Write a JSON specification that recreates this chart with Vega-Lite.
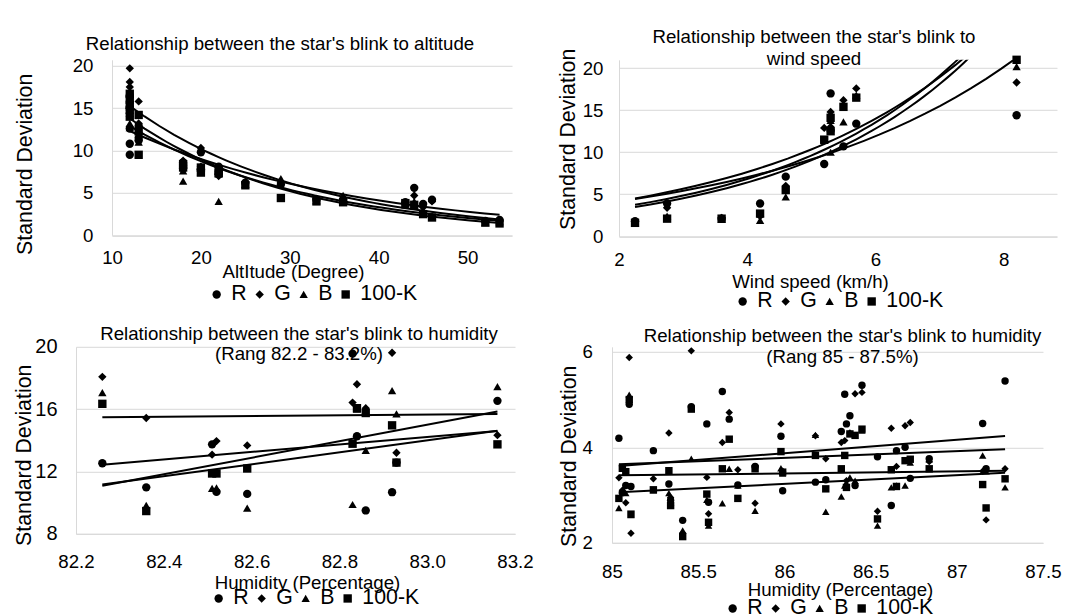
{
"$schema": "https://vega.github.io/schema/vega-lite/v6.json",
"padding": {"left": 13, "top": 27.8, "right": 0, "bottom": 0},
"background": "white",
"config": {
  "font": "Liberation Sans",
  "view": {"stroke": null},
  "axis": {"labelColor": "#000", "titleColor": "#000", "titleFontWeight": "normal", "gridColor": "#d9d9d9", "domainColor": "#d9d9d9", "ticks": false, "tickSize": 0, "labelFlush": false, "labelFontSize": 18.67, "titleFontSize": 18.67, "labelOverlap": false},
  "axisX": {"grid": false},
  "axisY": {"grid": true, "titleFontSize": 21.33},
  "legend": {"orient": "bottom", "direction": "horizontal", "labelFontSize": 21.33, "labelColor": "#000", "symbolSize": 70, "symbolFillColor": "black", "symbolStrokeColor": "black", "symbolStrokeWidth": 0, "columnPadding": 2, "labelOffset": 4, "layout": {"bottom": {"anchor": "middle"}}},
  "title": {"fontWeight": "normal", "fontSize": 18.67, "color": "#000", "anchor": "middle"}
},
"datasets": {
"alt": [
{"x":12,"s":"R","y":16.5},{"x":12,"s":"R","y":15.0},{"x":12,"s":"R","y":12.6},{"x":12,"s":"R","y":10.8},{"x":12,"s":"R","y":9.5},
{"x":12,"s":"G","y":19.7},{"x":12,"s":"G","y":18.1},{"x":12,"s":"G","y":17.5},{"x":12,"s":"G","y":16.2},{"x":12,"s":"G","y":14.7},
{"x":12,"s":"B","y":16.8},{"x":12,"s":"B","y":15.3},{"x":12,"s":"B","y":13.2},{"x":12,"s":"B","y":12.7},{"x":12,"s":"B","y":14.4},
{"x":12,"s":"100-K","y":16.7},{"x":12,"s":"100-K","y":16.0},{"x":12,"s":"100-K","y":15.4},{"x":12,"s":"100-K","y":14.8},{"x":12,"s":"100-K","y":14.0},
{"x":13,"s":"R","y":12.9},{"x":13,"s":"R","y":11.5},{"x":13,"s":"R","y":11.2},
{"x":13,"s":"G","y":15.8},{"x":13,"s":"G","y":13.2},{"x":13,"s":"G","y":12.0},
{"x":13,"s":"B","y":12.2},{"x":13,"s":"B","y":11.0},{"x":13,"s":"B","y":11.6},
{"x":13,"s":"100-K","y":14.2},{"x":13,"s":"100-K","y":12.3},{"x":13,"s":"100-K","y":9.5},
{"x":18,"s":"R","y":8.6},{"x":18,"s":"R","y":7.9},{"x":18,"s":"G","y":8.2},{"x":18,"s":"G","y":8.8},{"x":18,"s":"B","y":6.4},{"x":18,"s":"B","y":7.6},{"x":18,"s":"100-K","y":8.0},{"x":18,"s":"100-K","y":8.4},
{"x":20,"s":"R","y":9.8},{"x":20,"s":"R","y":7.8},{"x":20,"s":"G","y":10.3},{"x":20,"s":"G","y":8.1},{"x":20,"s":"B","y":7.5},{"x":20,"s":"B","y":8.0},{"x":20,"s":"100-K","y":8.0},{"x":20,"s":"100-K","y":7.4},
{"x":22,"s":"R","y":8.1},{"x":22,"s":"R","y":7.2},{"x":22,"s":"G","y":7.5},{"x":22,"s":"G","y":7.0},{"x":22,"s":"B","y":4.0},{"x":22,"s":"B","y":7.3},{"x":22,"s":"100-K","y":7.3},{"x":22,"s":"100-K","y":7.6},
{"x":25,"s":"R","y":6.2},{"x":25,"s":"G","y":6.3},{"x":25,"s":"B","y":6.0},{"x":25,"s":"100-K","y":5.9},
{"x":29,"s":"R","y":6.0},{"x":29,"s":"G","y":6.2},{"x":29,"s":"B","y":6.7},{"x":29,"s":"100-K","y":4.4},
{"x":33,"s":"R","y":4.2},{"x":33,"s":"G","y":4.3},{"x":33,"s":"B","y":4.1},{"x":33,"s":"100-K","y":4.0},
{"x":36,"s":"R","y":4.2},{"x":36,"s":"G","y":4.3},{"x":36,"s":"B","y":4.7},{"x":36,"s":"100-K","y":3.9},
{"x":43,"s":"R","y":3.9},{"x":43,"s":"G","y":3.8},{"x":43,"s":"B","y":3.6},{"x":43,"s":"100-K","y":3.8},
{"x":44,"s":"R","y":5.6},{"x":44,"s":"G","y":4.7},{"x":44,"s":"B","y":4.0},{"x":44,"s":"100-K","y":3.6},
{"x":45,"s":"R","y":3.7},{"x":45,"s":"G","y":3.3},{"x":45,"s":"B","y":2.9},{"x":45,"s":"100-K","y":2.5},
{"x":46,"s":"R","y":4.2},{"x":46,"s":"G","y":4.0},{"x":46,"s":"B","y":2.3},{"x":46,"s":"100-K","y":2.1},
{"x":52,"s":"R","y":1.7},{"x":52,"s":"G","y":1.6},{"x":52,"s":"B","y":1.5},{"x":52,"s":"100-K","y":1.5},
{"x":53.6,"s":"R","y":1.8},{"x":53.6,"s":"G","y":1.7},{"x":53.6,"s":"B","y":1.6},{"x":53.6,"s":"100-K","y":1.4}
],
"wind": [
{"x":2.25,"s":"R","y":1.8},{"x":2.25,"s":"G","y":1.7},{"x":2.25,"s":"B","y":1.6},{"x":2.25,"s":"100-K","y":1.6},
{"x":2.75,"s":"R","y":3.9},{"x":2.75,"s":"G","y":3.4},{"x":2.75,"s":"B","y":2.4},{"x":2.75,"s":"100-K","y":2.1},
{"x":3.6,"s":"R","y":2.1},{"x":3.6,"s":"G","y":2.2},{"x":3.6,"s":"B","y":2.0},{"x":3.6,"s":"100-K","y":2.1},
{"x":4.2,"s":"R","y":3.9},{"x":4.2,"s":"G","y":2.4},{"x":4.2,"s":"B","y":1.9},{"x":4.2,"s":"100-K","y":2.7},
{"x":4.6,"s":"R","y":7.1},{"x":4.6,"s":"G","y":6.0},{"x":4.6,"s":"B","y":4.7},{"x":4.6,"s":"100-K","y":5.5},
{"x":5.2,"s":"R","y":8.6},{"x":5.2,"s":"G","y":12.9},{"x":5.2,"s":"B","y":11.4},{"x":5.2,"s":"100-K","y":11.5},
{"x":5.3,"s":"R","y":17.0},{"x":5.3,"s":"G","y":14.8},{"x":5.3,"s":"B","y":13.8},{"x":5.3,"s":"100-K","y":14.1},
{"x":5.3,"s":"R","y":12.6},{"x":5.3,"s":"G","y":13.0},{"x":5.3,"s":"B","y":10.0},{"x":5.3,"s":"100-K","y":12.5},
{"x":5.5,"s":"R","y":10.7},{"x":5.5,"s":"G","y":16.2},{"x":5.5,"s":"B","y":13.6},{"x":5.5,"s":"100-K","y":15.4},
{"x":5.7,"s":"R","y":13.4},{"x":5.7,"s":"G","y":17.6},{"x":5.7,"s":"B","y":16.8},{"x":5.7,"s":"100-K","y":16.5},
{"x":8.2,"s":"R","y":14.4},{"x":8.2,"s":"G","y":18.3},{"x":8.2,"s":"B","y":20.2},{"x":8.2,"s":"100-K","y":21.0}
],
"hum1": [
{"x":82.26,"s":"R","y":12.53},{"x":82.26,"s":"G","y":18.07},{"x":82.26,"s":"B","y":17.06},{"x":82.26,"s":"100-K","y":16.34},
{"x":82.36,"s":"R","y":10.98},{"x":82.36,"s":"G","y":15.43},{"x":82.36,"s":"B","y":9.82},{"x":82.36,"s":"100-K","y":9.46},
{"x":82.51,"s":"R","y":13.74},{"x":82.51,"s":"G","y":13.08},{"x":82.51,"s":"B","y":10.92},{"x":82.51,"s":"100-K","y":11.87},
{"x":82.52,"s":"R","y":10.69},{"x":82.52,"s":"G","y":13.95},{"x":82.52,"s":"B","y":10.94},{"x":82.52,"s":"100-K","y":11.87},
{"x":82.59,"s":"R","y":10.56},{"x":82.59,"s":"G","y":13.67},{"x":82.59,"s":"B","y":9.65},{"x":82.59,"s":"100-K","y":12.19},
{"x":82.83,"s":"R","y":19.56},{"x":82.83,"s":"G","y":16.42},{"x":82.83,"s":"B","y":9.88},{"x":82.83,"s":"100-K","y":13.78},
{"x":82.84,"s":"R","y":14.26},{"x":82.84,"s":"G","y":17.6},{"x":82.84,"s":"B","y":16.0},{"x":82.84,"s":"100-K","y":16.06},
{"x":82.86,"s":"R","y":9.5},{"x":82.86,"s":"G","y":16.06},{"x":82.86,"s":"B","y":13.35},{"x":82.86,"s":"100-K","y":15.75},
{"x":82.92,"s":"R","y":10.67},{"x":82.92,"s":"G","y":19.62},{"x":82.92,"s":"B","y":17.19},{"x":82.92,"s":"100-K","y":14.96},
{"x":82.93,"s":"R","y":12.57},{"x":82.93,"s":"G","y":13.2},{"x":82.93,"s":"B","y":15.7},{"x":82.93,"s":"100-K","y":12.57},
{"x":83.16,"s":"R","y":16.53},{"x":83.16,"s":"G","y":14.33},{"x":83.16,"s":"B","y":17.44},{"x":83.16,"s":"100-K","y":13.74}
],
"hum2": [
{"x":85.04,"s":"R","y":4.19},{"x":85.04,"s":"G","y":3.36},{"x":85.04,"s":"B","y":2.73},{"x":85.04,"s":"100-K","y":2.93},
{"x":85.06,"s":"R","y":3.05},{"x":85.06,"s":"G","y":3.1},{"x":85.06,"s":"B","y":3.1},{"x":85.06,"s":"100-K","y":3.56},
{"x":85.08,"s":"R","y":3.2},{"x":85.08,"s":"G","y":2.84},{"x":85.08,"s":"B","y":3.04},{"x":85.08,"s":"100-K","y":3.49},
{"x":85.1,"s":"R","y":4.9},{"x":85.1,"s":"G","y":5.88},{"x":85.1,"s":"B","y":5.1},{"x":85.1,"s":"100-K","y":5.0},
{"x":85.11,"s":"R","y":3.18},{"x":85.11,"s":"G","y":2.2},{"x":85.11,"s":"B","y":2.58},{"x":85.11,"s":"100-K","y":2.6},
{"x":85.24,"s":"R","y":3.93},{"x":85.24,"s":"G","y":3.34},{"x":85.24,"s":"B","y":3.1},{"x":85.24,"s":"100-K","y":3.11},
{"x":85.33,"s":"R","y":3.23},{"x":85.33,"s":"G","y":4.3},{"x":85.33,"s":"B","y":3.04},{"x":85.33,"s":"100-K","y":3.51},
{"x":85.34,"s":"R","y":2.89},{"x":85.34,"s":"G","y":2.95},{"x":85.34,"s":"B","y":2.85},{"x":85.34,"s":"100-K","y":2.78},
{"x":85.41,"s":"R","y":2.47},{"x":85.41,"s":"G","y":2.2},{"x":85.41,"s":"B","y":2.26},{"x":85.41,"s":"100-K","y":2.13},
{"x":85.46,"s":"R","y":4.85},{"x":85.46,"s":"G","y":6.02},{"x":85.46,"s":"B","y":3.76},{"x":85.46,"s":"100-K","y":4.8},
{"x":85.55,"s":"R","y":4.49},{"x":85.55,"s":"G","y":3.37},{"x":85.55,"s":"B","y":2.9},{"x":85.55,"s":"100-K","y":3.02},
{"x":85.56,"s":"R","y":2.85},{"x":85.56,"s":"G","y":2.61},{"x":85.56,"s":"B","y":2.36},{"x":85.56,"s":"100-K","y":2.43},
{"x":85.64,"s":"R","y":5.17},{"x":85.64,"s":"G","y":4.1},{"x":85.64,"s":"B","y":2.83},{"x":85.64,"s":"100-K","y":3.55},
{"x":85.68,"s":"R","y":4.59},{"x":85.68,"s":"G","y":4.73},{"x":85.68,"s":"B","y":3.55},{"x":85.68,"s":"100-K","y":4.17},
{"x":85.73,"s":"R","y":3.21},{"x":85.73,"s":"G","y":3.53},{"x":85.73,"s":"B","y":3.2},{"x":85.73,"s":"100-K","y":2.93},
{"x":85.83,"s":"R","y":3.6},{"x":85.83,"s":"G","y":2.83},{"x":85.83,"s":"B","y":2.67},{"x":85.83,"s":"100-K","y":3.55},
{"x":85.98,"s":"R","y":4.23},{"x":85.98,"s":"G","y":4.49},{"x":85.98,"s":"B","y":3.56},{"x":85.98,"s":"100-K","y":3.91},
{"x":85.99,"s":"R","y":3.09},{"x":85.99,"s":"G","y":3.5},{"x":85.99,"s":"B","y":3.45},{"x":85.99,"s":"100-K","y":3.48},
{"x":86.18,"s":"R","y":3.27},{"x":86.18,"s":"G","y":4.24},{"x":86.18,"s":"B","y":4.26},{"x":86.18,"s":"100-K","y":3.83},
{"x":86.24,"s":"R","y":3.32},{"x":86.24,"s":"G","y":3.76},{"x":86.24,"s":"B","y":2.65},{"x":86.24,"s":"100-K","y":3.13},
{"x":86.33,"s":"R","y":4.33},{"x":86.33,"s":"G","y":4.1},{"x":86.33,"s":"B","y":2.97},{"x":86.33,"s":"100-K","y":3.55},
{"x":86.35,"s":"R","y":5.11},{"x":86.35,"s":"G","y":4.14},{"x":86.35,"s":"B","y":3.2},{"x":86.35,"s":"100-K","y":3.83},
{"x":86.36,"s":"R","y":4.49},{"x":86.36,"s":"G","y":3.3},{"x":86.36,"s":"B","y":3.25},{"x":86.36,"s":"100-K","y":3.16},
{"x":86.38,"s":"R","y":4.66},{"x":86.38,"s":"G","y":4.3},{"x":86.38,"s":"B","y":3.37},{"x":86.38,"s":"100-K","y":4.28},
{"x":86.41,"s":"R","y":3.2},{"x":86.41,"s":"G","y":5.12},{"x":86.41,"s":"B","y":3.3},{"x":86.41,"s":"100-K","y":4.25},
{"x":86.45,"s":"R","y":5.3},{"x":86.45,"s":"G","y":5.15},{"x":86.45,"s":"B","y":4.35},{"x":86.45,"s":"100-K","y":4.38},
{"x":86.54,"s":"R","y":3.8},{"x":86.54,"s":"G","y":2.66},{"x":86.54,"s":"B","y":2.36},{"x":86.54,"s":"100-K","y":2.5},
{"x":86.62,"s":"R","y":2.78},{"x":86.62,"s":"G","y":4.4},{"x":86.62,"s":"B","y":3.16},{"x":86.62,"s":"100-K","y":3.53},
{"x":86.65,"s":"R","y":3.93},{"x":86.65,"s":"G","y":3.6},{"x":86.65,"s":"B","y":3.2},{"x":86.65,"s":"100-K","y":3.18},
{"x":86.7,"s":"R","y":4.0},{"x":86.7,"s":"G","y":4.45},{"x":86.7,"s":"B","y":3.2},{"x":86.7,"s":"100-K","y":3.72},
{"x":86.73,"s":"R","y":3.35},{"x":86.73,"s":"G","y":4.52},{"x":86.73,"s":"B","y":3.68},{"x":86.73,"s":"100-K","y":3.75},
{"x":86.84,"s":"R","y":3.76},{"x":86.84,"s":"G","y":3.7},{"x":86.84,"s":"B","y":3.75},{"x":86.84,"s":"100-K","y":3.55},
{"x":87.15,"s":"R","y":4.5},{"x":87.15,"s":"G","y":3.5},{"x":87.15,"s":"B","y":3.83},{"x":87.15,"s":"100-K","y":3.22},
{"x":87.17,"s":"R","y":3.55},{"x":87.17,"s":"G","y":2.48},{"x":87.17,"s":"B","y":3.5},{"x":87.17,"s":"100-K","y":2.73},
{"x":87.28,"s":"R","y":5.39},{"x":87.28,"s":"G","y":3.55},{"x":87.28,"s":"B","y":3.16},{"x":87.28,"s":"100-K","y":3.34}
]
},
"resolve": {"scale": {"shape": "independent"}, "legend": {"shape": "independent"}},
"spacing": 13,
"vconcat": [
{
"resolve": {"scale": {"shape": "independent"}, "legend": {"shape": "independent"}},
"spacing": 45,
"hconcat": [
{
"width": 400, "height": 175.5,
"title": {"text": "Relationship between the star's blink to altitude", "offset": 3, "dx": -32},
"data": {"name": "alt"},
"layer": [
{"mark": {"type": "point", "filled": true, "color": "black", "size": 70, "opacity": 1},
 "encoding": {
  "x": {"field": "x", "type": "quantitative", "scale": {"domain": [10, 55], "nice": false}, "axis": {"title": "AltItude (Degree)", "values": [10, 20, 30, 40, 50], "labelPadding": 13, "titlePadding": -4, "titleX": 181}},
  "y": {"field": "y", "type": "quantitative", "scale": {"domain": [0, 20.71], "nice": false}, "axis": {"title": "Standard Deviation", "values": [0, 5, 10, 15, 20], "labelPadding": 19, "titlePadding": 37, "titleY": 104}},
  "shape": {"field": "s", "type": "nominal", "scale": {"domain": ["R", "G", "B", "100-K"], "range": ["circle", "diamond", "triangle-up", "square"]}, "legend": {"title": null, "offset": 2}}
 }},
{"transform": [{"regression": "y", "on": "x", "groupby": ["s"], "method": "exp", "extent": [12, 53.6]}],
 "mark": {"type": "line", "color": "black", "strokeWidth": 2},
 "encoding": {
  "x": {"field": "x", "type": "quantitative", "scale": {"domain": [10, 55], "nice": false}},
  "y": {"field": "y", "type": "quantitative", "scale": {"domain": [0, 20.71], "nice": false}},
  "detail": {"field": "s", "type": "nominal"}
 }}
]
},
{
"width": 438, "height": 176.5,
"title": {"text": ["Relationship between the star's blink to", "wind speed"], "offset": -20.4, "dx": -24, "lineHeight": 21.6},
"data": {"name": "wind"},
"layer": [
{"mark": {"type": "point", "filled": true, "color": "black", "size": 70, "opacity": 1},
 "encoding": {
  "x": {"field": "x", "type": "quantitative", "scale": {"domain": [2, 8.83], "nice": false}, "axis": {"title": "Wind speed (km/h)", "values": [2, 4, 6, 8], "format": "d", "labelPadding": 14, "titlePadding": 4, "titleX": 191}},
  "y": {"field": "y", "type": "quantitative", "scale": {"domain": [0, 21], "nice": false}, "axis": {"title": "Standard Deviation", "values": [0, 5, 10, 15, 20], "labelPadding": 16, "titlePadding": 4, "titleY": 79}},
  "shape": {"field": "s", "type": "nominal", "scale": {"domain": ["R", "G", "B", "100-K"], "range": ["circle", "diamond", "triangle-up", "square"]}, "legend": {"title": null, "offset": -1}}
 }},
{"transform": [{"regression": "y", "on": "x", "groupby": ["s"], "method": "exp", "extent": [2.25, 8.2]}],
 "mark": {"type": "line", "color": "black", "strokeWidth": 2, "clip": true},
 "encoding": {
  "x": {"field": "x", "type": "quantitative", "scale": {"domain": [2, 8.83], "nice": false}},
  "y": {"field": "y", "type": "quantitative", "scale": {"domain": [0, 21], "nice": false}},
  "detail": {"field": "s", "type": "nominal"}
 }}
]
}
]
},
{
"resolve": {"scale": {"shape": "independent"}, "legend": {"shape": "independent"}},
"spacing": 7,
"hconcat": [
{
"width": 403, "height": 187,
"title": {"text": ["Relationship between the star's blink to humidity", "(Rang 82.2 - 83.2%)"], "offset": -27, "dx": -14.5, "lineHeight": 20},
"data": {"name": "hum1"},
"layer": [
{"mark": {"type": "point", "filled": true, "color": "black", "size": 70, "opacity": 1},
 "encoding": {
  "x": {"field": "x", "type": "quantitative", "scale": {"domain": [82.2, 83.2], "range": [-36, 403], "nice": false, "zero": false}, "axis": {"title": "Humidity (Percentage)", "values": [82.2, 82.4, 82.6, 82.8, 83.0, 83.2], "format": ".1f", "labelPadding": 18.6, "titlePadding": 2, "titleX": 195}},
  "y": {"field": "y", "type": "quantitative", "scale": {"domain": [8, 20], "nice": false, "zero": false}, "axis": {"title": "Standard Deviation", "values": [8, 12, 16, 20], "offset": 36, "labelFontSize": 20, "labelPadding": 19, "titlePadding": 0, "titleY": 108}},
  "shape": {"field": "s", "type": "nominal", "scale": {"domain": ["R", "G", "B", "100-K"], "range": ["circle", "diamond", "triangle-up", "square"]}, "legend": {"title": null, "offset": -4}}
 }},
{"transform": [{"regression": "y", "on": "x", "groupby": ["s"], "method": "linear", "extent": [82.26, 83.16]}],
 "mark": {"type": "line", "color": "black", "strokeWidth": 2},
 "encoding": {
  "x": {"field": "x", "type": "quantitative", "scale": {"domain": [82.2, 83.2], "range": [-36, 403], "nice": false, "zero": false}},
  "y": {"field": "y", "type": "quantitative", "scale": {"domain": [8, 20], "nice": false, "zero": false}},
  "detail": {"field": "s", "type": "nominal"}
 }}
]
},
{
"width": 431, "height": 196,
"title": {"text": ["Relationship between the star's  blink to humidity", "(Rang 85 - 87.5%)"], "offset": -24, "dx": 15, "lineHeight": 20.7},
"data": {"name": "hum2"},
"layer": [
{"mark": {"type": "point", "filled": true, "color": "black", "size": 55, "opacity": 1},
 "encoding": {
  "x": {"field": "x", "type": "quantitative", "scale": {"domain": [85, 87.5], "nice": false, "zero": false}, "axis": {"title": "Humidity (Percentage)", "values": [85, 85.5, 86, 86.5, 87, 87.5], "format": "~g", "labelPadding": 20, "titlePadding": -1, "titleX": 228}},
  "y": {"field": "y", "type": "quantitative", "scale": {"domain": [2, 6.105], "nice": false, "zero": false}, "axis": {"title": "Standard Deviation", "values": [2, 4, 6], "labelPadding": 19.7, "titlePadding": 2.3, "titleY": 109}},
  "shape": {"field": "s", "type": "nominal", "scale": {"domain": ["R", "G", "B", "100-K"], "range": ["circle", "diamond", "triangle-up", "square"]}, "legend": {"title": null, "offset": -2}}
 }},
{"transform": [{"regression": "y", "on": "x", "groupby": ["s"], "method": "linear", "extent": [85.04, 87.28]}],
 "mark": {"type": "line", "color": "black", "strokeWidth": 2},
 "encoding": {
  "x": {"field": "x", "type": "quantitative", "scale": {"domain": [85, 87.5], "nice": false, "zero": false}},
  "y": {"field": "y", "type": "quantitative", "scale": {"domain": [2, 6.105], "nice": false, "zero": false}},
  "detail": {"field": "s", "type": "nominal"}
 }}
]
}
]
}
]
}
